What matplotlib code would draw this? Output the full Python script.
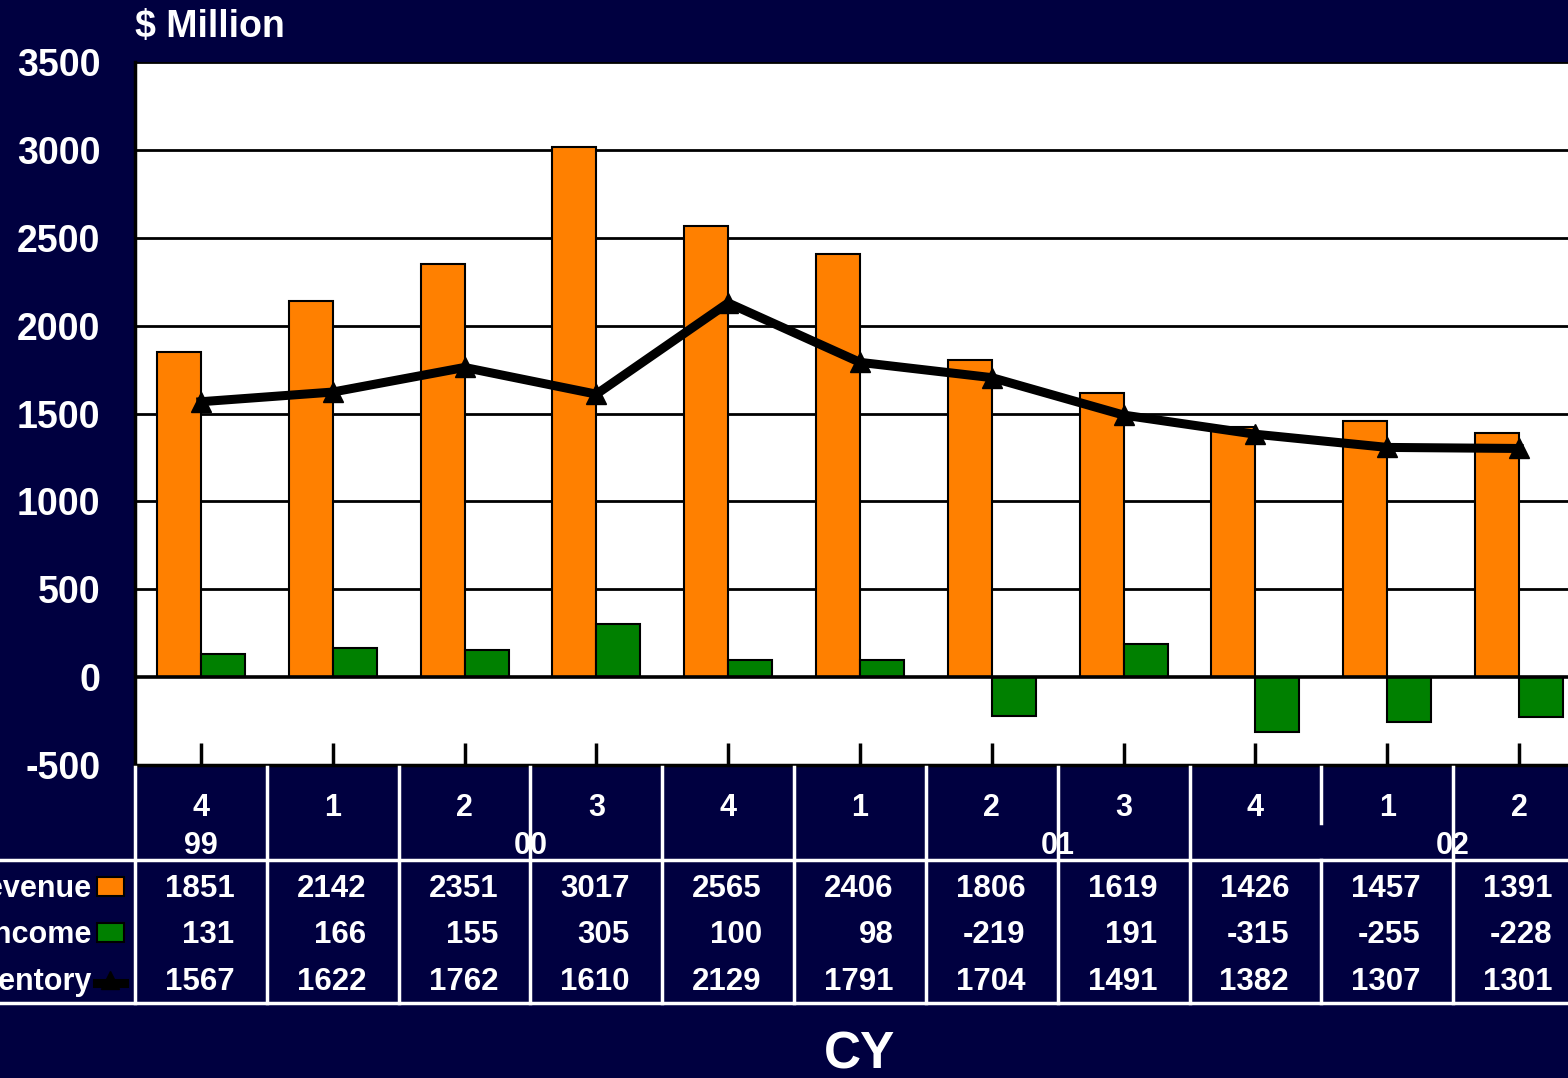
import matplotlib
matplotlib.use('Agg')
import matplotlib.pyplot as plt
import matplotlib.transforms as mtransforms
from matplotlib.lines import Line2D
from matplotlib.patches import Rectangle
import numpy as np

quarters = ['4', '1', '2', '3', '4', '1', '2', '3', '4', '1', '2']
years = ['99', '00', '01', '02']
year_pos = [0, 2.5, 6.5, 9.5]
revenue = [1851, 2142, 2351, 3017, 2565, 2406, 1806, 1619, 1426, 1457, 1391]
income = [131, 166, 155, 305, 100, 98, -219, 191, -315, -255, -228]
inventory = [1567, 1622, 1762, 1610, 2129, 1791, 1704, 1491, 1382, 1307, 1301]
row_names = ['Revenue', 'Net Income', 'Inventory']

navy = '#000040'
orange = '#FF8000'
green = '#008000'

plt.rcParams['font.family'] = ['Liberation Sans', 'DejaVu Sans']
plt.rcParams['font.weight'] = 'bold'
plt.rcParams['axes.unicode_minus'] = False

W, H = 1568, 1078
fig = plt.figure(figsize=(W / 100, H / 100), dpi=100, facecolor=navy)

def fy(py):
    return 1 - py / H

ax = fig.add_axes([135 / W, fy(765), 1450 / W, (765 - 62) / H])
ax.set_facecolor('white')
x = np.arange(len(quarters))

ax.bar(x - 0.167, revenue, width=0.334, color=orange, edgecolor='black', linewidth=1.5, zorder=3)
ax.bar(x + 0.167, income, width=0.334, color=green, edgecolor='black', linewidth=1.5, zorder=3)
ax.plot(x, inventory, color='black', lw=6.5, marker='^', markersize=15, zorder=4)

ax.set_xlim(-0.5, 10.5)
ax.set_ylim(-500, 3500)
ax.set_yticks(range(-500, 3501, 500))
for v in range(500, 3501, 500):
    ax.axhline(v, color='black', lw=2, zorder=1)
ax.axhline(0, color='black', lw=2.6, zorder=3.5)

ax.tick_params(axis='y', length=0, pad=25, labelsize=27, labelcolor='white')
for lab in ax.get_yticklabels():
    lab.set_fontweight('bold')
ax.set_xticks(x)
ax.tick_params(axis='x', direction='in', length=16, width=2.5, color='black', labelbottom=False)
for s in ['left', 'bottom']:
    ax.spines[s].set_color('black')
    ax.spines[s].set_linewidth(2.5)
ax.spines['top'].set_visible(False)
ax.spines['right'].set_visible(False)

fig.text(135 / W, fy(27), '$ Million', color='white', fontsize=27, fontweight='bold',
         ha='left', va='center')

# data table below the axis
tr = mtransforms.blended_transform_factory(ax.transData, fig.transFigure)
for i, q in enumerate(quarters):
    fig.text(i, fy(808), q, transform=tr, color='white', fontsize=22, fontweight='bold',
             ha='center', va='center')
for yr, p in zip(years, year_pos):
    fig.text(p, fy(846), yr, transform=tr, color='white', fontsize=22, fontweight='bold',
             ha='center', va='center')

rows_y = [889, 935, 982]
for vals, ry in zip([revenue, income, inventory], rows_y):
    for i, v in enumerate(vals):
        fig.text(i + 0.255, fy(ry), str(v), transform=tr, color='white', fontsize=22.5,
                 fontweight='bold', ha='right', va='center')

for name, ry in zip(row_names, rows_y):
    fig.text(91 / W, fy(ry), name, color='white', fontsize=22, fontweight='bold',
             ha='right', va='center')

fig.patches.append(Rectangle((97 / W, fy(896)), 27 / W, 19 / H, transform=fig.transFigure,
                             facecolor=orange, edgecolor='black', lw=1.5))
fig.patches.append(Rectangle((97 / W, fy(942)), 27 / W, 19 / H, transform=fig.transFigure,
                             facecolor=green, edgecolor='black', lw=1.5))
fig.lines.append(Line2D([97 / W, 124 / W], [fy(983), fy(983)], transform=fig.transFigure,
                        color='black', lw=6.5))
fig.lines.append(Line2D([110 / W], [fy(980)], transform=fig.transFigure,
                        color='black', marker='^', markersize=13, lw=0))

for b in np.arange(-0.5, 11, 1.0):
    top = fy(767)
    bottom = fy(1003)
    if b == 8.5:
        fig.lines.append(Line2D([b, b], [top, fy(823)], transform=tr, color='white', lw=2.5))
        fig.lines.append(Line2D([b, b], [fy(860), bottom], transform=tr, color='white', lw=2.5))
    else:
        fig.lines.append(Line2D([b, b], [top, bottom], transform=tr, color='white', lw=2.5))
for hy in [860, 1003]:
    fig.lines.append(Line2D([0, 1], [fy(hy), fy(hy)], transform=fig.transFigure,
                            color='white', lw=2.5))

fig.text(860 / W, fy(1055), 'CY', color='white', fontsize=37, fontweight='bold',
         ha='center', va='center')

fig.savefig('out.png', dpi=100, facecolor=navy)
